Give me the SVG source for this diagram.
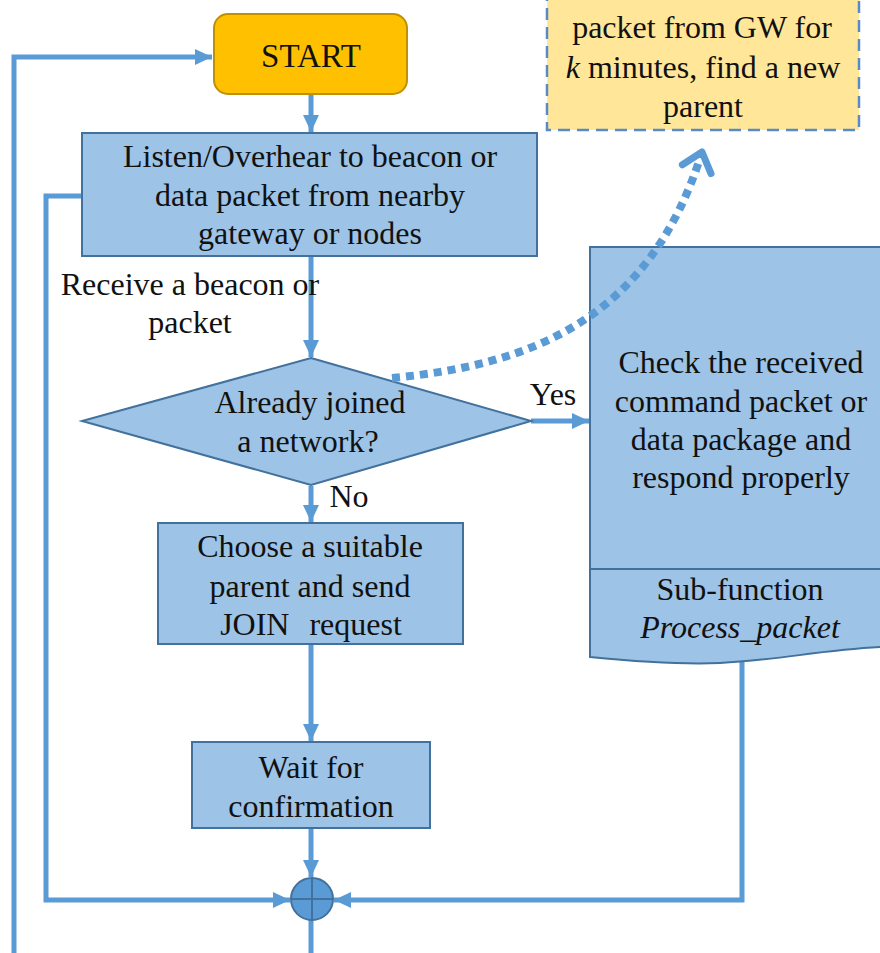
<svg xmlns="http://www.w3.org/2000/svg" width="880" height="953" viewBox="0 0 880 953">
  <style>
    text { font-family: "Liberation Serif", serif; font-size: 32px; fill: #111; text-anchor: middle; }
    .box { fill: #9DC3E6; stroke: #41719C; stroke-width: 2; }
    .conn { fill: none; stroke: #5B9BD5; stroke-width: 5; }
  </style>
  <defs>
    <marker id="arrow" markerUnits="userSpaceOnUse" markerWidth="18" markerHeight="18" viewBox="0 0 18 18" refX="17" refY="9" orient="auto">
      <path d="M0,1 L17,9 L0,17 Z" fill="#5B9BD5"/>
    </marker>
    <marker id="chevron" markerUnits="userSpaceOnUse" markerWidth="40" markerHeight="40" viewBox="0 0 40 40" refX="30" refY="20" orient="auto">
      <path d="M12,5 L30,20 L12,35" fill="none" stroke="#5B9BD5" stroke-width="7" stroke-linecap="round" stroke-linejoin="round"/>
    </marker>
  </defs>

  <!-- connectors -->
  <g id="connectors">
    <!-- outer loop back to START -->
    <polyline class="conn" points="14,953 14,57 212,57" marker-end="url(#arrow)"/>
    <!-- START to listen -->
    <line class="conn" x1="311" y1="95" x2="311" y2="132" marker-end="url(#arrow)"/>
    <!-- listen to decision -->
    <line class="conn" x1="311" y1="257" x2="311" y2="357" marker-end="url(#arrow)"/>
    <!-- Yes branch -->
    <line class="conn" x1="531" y1="421" x2="589" y2="421" marker-end="url(#arrow)"/>
    <!-- No branch -->
    <line class="conn" x1="311" y1="486" x2="311" y2="522" marker-end="url(#arrow)"/>
    <!-- choose to wait -->
    <line class="conn" x1="311" y1="645" x2="311" y2="741" marker-end="url(#arrow)"/>
    <!-- wait to junction -->
    <line class="conn" x1="311" y1="829" x2="311" y2="877" marker-end="url(#arrow)"/>
    <!-- inner loop from listen box -->
    <polyline class="conn" points="82,196 46,196 46,900 290,900" marker-end="url(#arrow)"/>
    <!-- return from sub-function -->
    <polyline class="conn" points="742,660 742,900 334,900" marker-end="url(#arrow)"/>
    <!-- junction exit -->
    <line class="conn" x1="311" y1="920" x2="311" y2="953"/>
  </g>

  <g font-family="Liberation Serif" font-size="32" text-anchor="middle" fill="#111">
  <g id="start">
    <rect x="214" y="14" width="193" height="80" rx="14" ry="14" fill="#FFC000" stroke="#BF9000" stroke-width="2"/>
    <text x="311" y="67" style="font-size:33px">START</text>
  </g>

  <g id="listen">
    <rect class="box" x="82" y="133" width="455" height="123"/>
    <text x="310" y="167">Listen/Overhear to beacon or</text>
    <text x="310" y="206">data packet from nearby</text>
    <text x="310" y="244">gateway or nodes</text>
  </g>

  <g id="receive-label">
    <text x="190" y="295">Receive a beacon or</text>
    <text x="190" y="333">packet</text>
  </g>

  <g id="decision">
    <polygon class="box" points="311,358 531,421 311,485 82,421"/>
    <text x="310" y="413">Already joined</text>
    <text x="308" y="452">a network?</text>
  </g>

  <g id="yes-label"><text x="553" y="405">Yes</text></g>
  <g id="no-label"><text x="349" y="507">No</text></g>

  <g id="choose">
    <rect class="box" x="158" y="523" width="305" height="121"/>
    <text x="310" y="557">Choose a suitable</text>
    <text x="310" y="597">parent and send</text>
    <text x="311" y="635" word-spacing="12">JOIN  request</text>
  </g>

  <g id="wait">
    <rect class="box" x="192" y="742" width="238" height="86"/>
    <text x="311" y="778">Wait for</text>
    <text x="311" y="817">confirmation</text>
  </g>

  <g id="junction">
    <circle cx="312" cy="899" r="21" fill="#5B9BD5" stroke="#41719C" stroke-width="2"/>
    <line x1="312" y1="878" x2="312" y2="920" stroke="#41719C" stroke-width="2"/>
    <line x1="291" y1="899" x2="333" y2="899" stroke="#41719C" stroke-width="2"/>
  </g>

  <g id="process">
    <path class="box" d="M590,247 L882,247 L882,647 C820,650 780,660 720,663 C670,665 620,660 590,657 Z"/>
    <line x1="590" y1="569" x2="882" y2="569" stroke="#41719C" stroke-width="2"/>
    <text x="741" y="373">Check the received</text>
    <text x="741" y="412">command packet or</text>
    <text x="741" y="450">data package and</text>
    <text x="741" y="488">respond properly</text>
    <text x="740" y="600">Sub-function</text>
    <text x="740" y="638" font-style="italic">Process_packet</text>
  </g>

  <g id="new-parent">
    <rect x="547" y="-10" width="312" height="140" fill="#FFE699" stroke="#5A8AC6" stroke-width="2.5" stroke-dasharray="12,7"/>
    <text x="702" y="38">packet from GW for</text>
    <text x="703" y="78"><tspan font-style="italic">k</tspan> minutes, find a new</text>
    <text x="703" y="117">parent</text>
  </g>
  </g>

  <!-- timeout path, drawn over the sub-function box -->
  <g id="timeout-link">
    <path d="M392,378 C530,365 650,320 702,152" fill="none" stroke="#5B9BD5" stroke-width="8" stroke-dasharray="8,6" marker-end="url(#chevron)"/>
  </g>
</svg>
